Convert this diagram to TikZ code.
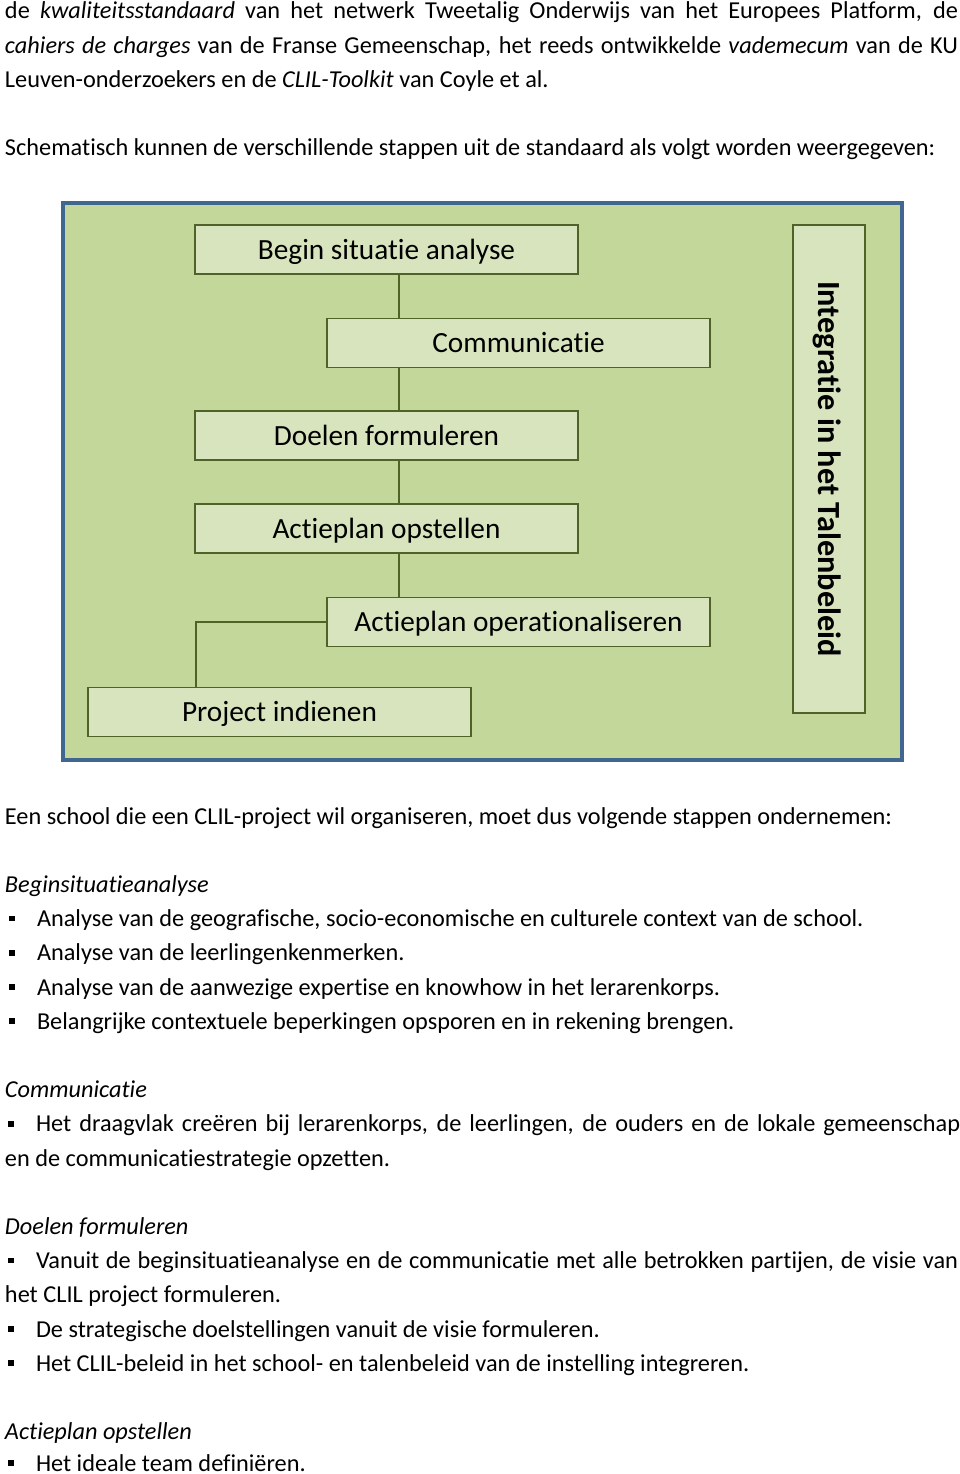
\documentclass[tikz,border=0pt]{standalone}
\usepackage{fontspec}
\setmainfont{Carlito}[Ligatures=NoCommon, RawFeature={-liga;-clig;-calt;-dlig}]
\definecolor{framefill}{HTML}{C4D79B}
\definecolor{frameline}{HTML}{41668F}
\definecolor{boxfill}{HTML}{D8E4BD}
\definecolor{boxline}{HTML}{4F6228}
\tikzset{
  body/.style={anchor=base west, inner sep=0pt, outer sep=0pt, font=\fontsize{24.3}{34.2}\selectfont},
  stepbox/.style={draw=boxline, line width=1.8pt, fill=boxfill, inner sep=0pt, text depth=1pt, font=\fontsize{29.3}{35}\selectfont},
  link/.style={draw=boxline, line width=1.8pt},
  bul/.style={fill=black, rectangle, minimum size=5.5pt, inner sep=0pt, outer sep=0pt}
}
\begin{document}
\begin{tikzpicture}[x=1pt, y=-1pt]
\useasboundingbox (0,0) rectangle (960,1474);
% top paragraph
\node[body] (p1) at (5,19) {\makebox[953pt][s]{de \textit{kwaliteitsstandaard} van het netwerk Tweetalig Onderwijs van het Europees Platform, de}};
\node[body] (p2) at (5,53.2) {\makebox[953pt][s]{\textit{cahiers de charges} van de Franse Gemeenschap, het reeds ontwikkelde \textit{vademecum} van de KU}};
\node[body] (p3) at (5,87.4) {Leuven-onderzoekers en de \textit{CLIL-Toolkit} van Coyle et al.};
\node[body] (p4) at (5,155.8) {Schematisch kunnen de verschillende stappen uit de standaard als volgt worden weergegeven:};
% diagram
\node[draw=frameline, line width=4pt, fill=framefill, minimum width=839pt, minimum height=557pt, inner sep=0pt] (frame) at (482.5,481.5) {};
\coordinate (spine) at (399,0);
\coordinate (branch) at (196,0);
\node[stepbox, minimum width=383pt, minimum height=49pt] (begin) at (386.5,249.5) {Begin situatie analyse};
\node[stepbox, minimum width=383pt, minimum height=49pt] (comm) at (518.5,343) {Communicatie};
\node[stepbox, minimum width=383pt, minimum height=49pt] (doel) at (386.5,435.5) {Doelen formuleren};
\node[stepbox, minimum width=383pt, minimum height=49pt] (opst) at (386.5,528.5) {Actieplan opstellen};
\node[stepbox, minimum width=383pt, minimum height=49pt] (oper) at (518.5,622) {Actieplan operationaliseren};
\node[stepbox, minimum width=383pt, minimum height=49pt] (proj) at (279.5,712) {Project indienen};
\node[stepbox, minimum width=488pt, minimum height=72pt, rotate=-90, font=\fontsize{32.3}{36}\selectfont\bfseries] (integ) at (829,469) {Integratie in het Talenbeleid};
\draw[link] (begin.south -| spine) -- (comm.north -| spine);
\draw[link] (comm.south -| spine) -- (doel.north -| spine);
\draw[link] (doel.south -| spine) -- (opst.north -| spine);
\draw[link] (opst.south -| spine) -- (oper.north -| spine);
\draw[link] (oper.west) -| (proj.north -| branch);
% lower text
\node[body] (t1) at (5,824) {Een school die een CLIL-project wil organiseren, moet dus volgende stappen ondernemen:};
\node[body] (h1) at (5,892.4) {\textit{Beginsituatieanalyse}};
\node[bul] (b1) at (12,918.6) {};
\node[body] (l1) at (37,926.6) {Analyse van de geografische, socio-economische en culturele context van de school.};
\node[bul] (b2) at (12,952.8) {};
\node[body] (l2) at (37,960.8) {Analyse van de leerlingenkenmerken.};
\node[bul] (b3) at (12,987) {};
\node[body] (l3) at (37,995) {Analyse van de aanwezige expertise en knowhow in het lerarenkorps.};
\node[bul] (b4) at (12,1021.2) {};
\node[body] (l4) at (37,1029.2) {Belangrijke contextuele beperkingen opsporen en in rekening brengen.};
\node[body] (h2) at (5,1097.6) {\textit{Communicatie}};
\node[bul] (b5) at (11,1123.8) {};
\node[body] (l5) at (36,1131.8) {\makebox[924pt][s]{Het draagvlak creëren bij lerarenkorps, de leerlingen, de ouders en de lokale gemeenschap}};
\node[body] (l5b) at (5,1166) {en de communicatiestrategie opzetten.};
\node[body] (h3) at (5,1234.4) {\textit{Doelen formuleren}};
\node[bul] (b6) at (11,1260.6) {};
\node[body] (l6) at (36,1268.6) {\makebox[922pt][s]{Vanuit de beginsituatieanalyse en de communicatie met alle betrokken partijen, de visie van}};
\node[body] (l6b) at (5,1302.8) {het CLIL project formuleren.};
\node[bul] (b7) at (11,1329) {};
\node[body] (l7) at (36,1337) {De strategische doelstellingen vanuit de visie formuleren.};
\node[bul] (b8) at (11,1363.2) {};
\node[body] (l8) at (36,1371.2) {Het CLIL-beleid in het school- en talenbeleid van de instelling integreren.};
\node[body] (h4) at (5,1439.6) {\textit{Actieplan opstellen}};
\node[bul] (b9) at (11,1463) {};
\node[body] (l9) at (36,1471) {Het ideale team definiëren.};
\end{tikzpicture}
\end{document}
